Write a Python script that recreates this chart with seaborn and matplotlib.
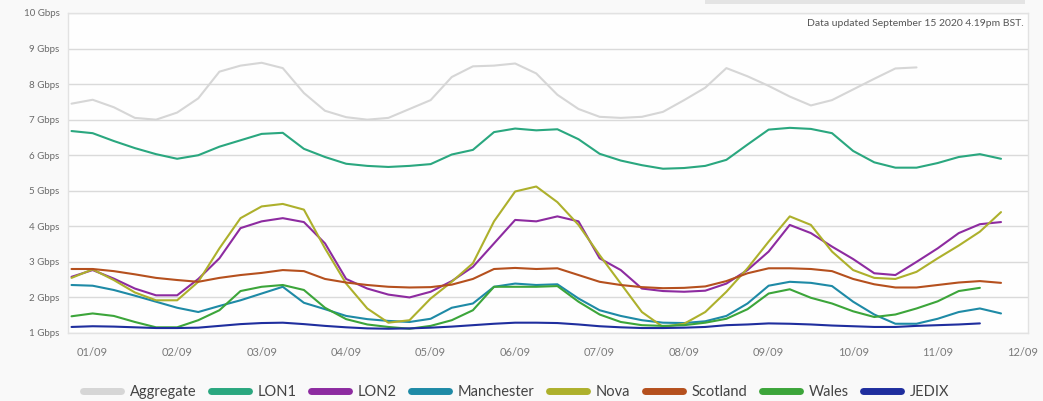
import numpy as np
import pandas as pd
import seaborn as sns
import matplotlib.pyplot as plt
from matplotlib.lines import Line2D
from matplotlib.patches import Rectangle
import matplotlib.dates as mdates

# ###########################################
# Data (Gbps, 6-hourly samples)
# ###########################################

times = pd.date_range('2020-08-31 18:00', periods=45, freq='6h')

aggregate = [7.45, 7.56, 7.35, 7.05, 7.0, 7.2, 7.6, 8.35, 8.52, 8.6,
             8.45, 7.75, 7.25, 7.07, 7.0, 7.05, 7.3, 7.55, 8.2, 8.5,
             8.52, 8.58, 8.3, 7.7, 7.3, 7.08, 7.05, 7.08, 7.22, 7.55,
             7.9, 8.45, 8.22, 7.95, 7.65, 7.4, 7.55, 7.85, 8.15, 8.44,
             8.47]
lon1 = [6.68, 6.62, 6.4, 6.2, 6.03, 5.9, 6.0, 6.24, 6.42, 6.6,
        6.63, 6.18, 5.95, 5.76, 5.7, 5.67, 5.7, 5.75, 6.02, 6.15,
        6.65, 6.75, 6.7, 6.73, 6.45, 6.04, 5.85, 5.72, 5.62, 5.64,
        5.7, 5.87, 6.3, 6.72, 6.77, 6.74, 6.62, 6.12, 5.8, 5.65,
        5.65, 5.78, 5.95, 6.03, 5.9]
lon2 = [2.58, 2.77, 2.53, 2.25, 2.06, 2.06, 2.52, 3.1, 3.95, 4.14,
        4.23, 4.12, 3.52, 2.52, 2.25, 2.08, 2.0, 2.16, 2.46, 2.86,
        3.52, 4.18, 4.14, 4.28, 4.14, 3.1, 2.77, 2.25, 2.18, 2.16,
        2.19, 2.39, 2.77, 3.29, 4.04, 3.81, 3.43, 3.08, 2.68, 2.63,
        3.0, 3.38, 3.81, 4.06, 4.12]
manchester = [2.35, 2.33, 2.21, 2.05, 1.88, 1.71, 1.59, 1.76, 1.92, 2.11,
              2.3, 1.85, 1.67, 1.48, 1.39, 1.34, 1.31, 1.4, 1.71, 1.83,
              2.3, 2.39, 2.35, 2.37, 1.97, 1.64, 1.48, 1.36, 1.29, 1.28,
              1.33, 1.48, 1.83, 2.33, 2.44, 2.41, 2.32, 1.88, 1.52, 1.26,
              1.26, 1.4, 1.59, 1.69, 1.55]
nova = [2.55, 2.79, 2.49, 2.14, 1.92, 1.92, 2.44, 3.38, 4.23, 4.56,
        4.63, 4.47, 3.38, 2.39, 1.69, 1.29, 1.36, 1.97, 2.44, 2.96,
        4.14, 4.98, 5.12, 4.68, 4.04, 3.19, 2.39, 1.59, 1.17, 1.26,
        1.59, 2.16, 2.82, 3.57, 4.28, 4.04, 3.29, 2.77, 2.55, 2.52,
        2.72, 3.1, 3.46, 3.85, 4.4]
scotland = [2.8, 2.8, 2.74, 2.65, 2.55, 2.49, 2.44, 2.55, 2.63, 2.69,
            2.77, 2.74, 2.52, 2.42, 2.35, 2.3, 2.28, 2.29, 2.36, 2.52,
            2.8, 2.83, 2.8, 2.82, 2.63, 2.44, 2.35, 2.29, 2.26, 2.27,
            2.31, 2.46, 2.68, 2.82, 2.82, 2.8, 2.74, 2.52, 2.37, 2.28,
            2.28, 2.35, 2.42, 2.46, 2.41]
wales = [1.47, 1.55, 1.48, 1.31, 1.16, 1.16, 1.36, 1.64, 2.18, 2.3,
         2.35, 2.21, 1.71, 1.39, 1.24, 1.17, 1.12, 1.2, 1.36, 1.64,
         2.3, 2.3, 2.3, 2.32, 1.88, 1.52, 1.31, 1.22, 1.2, 1.22,
         1.29, 1.4, 1.67, 2.11, 2.23, 1.99, 1.83, 1.61, 1.45, 1.52,
         1.69, 1.89, 2.18, 2.27]
jedix = [1.17, 1.19, 1.18, 1.16, 1.14, 1.14, 1.15, 1.2, 1.25, 1.28,
         1.29, 1.25, 1.2, 1.16, 1.13, 1.12, 1.13, 1.15, 1.18, 1.22,
         1.26, 1.29, 1.29, 1.28, 1.24, 1.19, 1.16, 1.14, 1.14, 1.15,
         1.17, 1.22, 1.24, 1.27, 1.26, 1.24, 1.21, 1.19, 1.17, 1.17,
         1.2, 1.22, 1.24, 1.27]

series_names = ['Aggregate', 'LON1', 'LON2', 'Manchester', 'Nova',
                'Scotland', 'Wales', 'JEDIX']
series_values = [aggregate, lon1, lon2, manchester, nova, scotland, wales, jedix]
colours = ['#d6d6d6', '#2aa77f', '#8d2ba0', '#1e8aa6', '#adb02c',
           '#b5501e', '#3ca53a', '#1f2e9e']

ytick_labels = ['%d Gbps' % v for v in range(1, 11)]
xtick_days = pd.date_range('2020-09-01', '2020-09-12', freq='D')

rows = []
for name, vals in zip(series_names, series_values):
    for t, v in zip(times, vals):
        rows.append({'time': t, 'Gbps': v, 'series': name})
df = pd.DataFrame(rows)

# ###########################################
# Plot
# ###########################################

sns.set_theme(style='white')
plt.rcParams['font.family'] = ['Lato', 'DejaVu Sans']

fig = plt.figure(figsize=(10.43, 4.01), dpi=100, facecolor='#f9f9f9')
ax = fig.add_axes([68/1043, 1 - 333/401, (1028 - 68)/1043, (333 - 13)/401])
ax.set_facecolor('#fefefe')

palette = dict(zip(series_names, colours))
sns.lineplot(data=df, x='time', y='Gbps', hue='series', palette=palette,
             hue_order=series_names, linewidth=1.5, ax=ax, legend=False,
             sort=False, solid_joinstyle='round')

ax.set_ylim(1, 10)
ax.set_yticks(range(1, 11))
ax.set_yticklabels(ytick_labels)
ax.set_xlim(pd.Timestamp('2020-08-31 17:00'), pd.Timestamp('2020-09-12 01:40'))
ax.set_xticks(xtick_days)
ax.xaxis.set_major_formatter(mdates.DateFormatter('%d/%m'))
ax.grid(axis='y', color='#dadada', linewidth=1)
ax.set_axisbelow(True)
ax.tick_params(axis='y', length=0, pad=6, labelsize=7, labelcolor='#6a6a6a')
ax.tick_params(axis='x', length=0, pad=10, labelsize=8, labelcolor='#7a7a7a')
ax.set_xlabel('')
ax.set_ylabel('')
for s in ax.spines.values():
    s.set_color('#e2e2e2')
    s.set_linewidth(1)

# top-right info box
fig.patches.append(Rectangle((705/1043, 1 - 4/401), (1025 - 705)/1043, 0.02,
                             transform=fig.transFigure, facecolor='#e4e4e4',
                             edgecolor='none'))
fig.text(1024/1043, 1 - 24/401, 'Data updated September 15 2020 4.19pm BST.',
         ha='right', va='center', fontsize=7.5, color='#555555')

handles = [Line2D([], [], color=c, linewidth=5) for c in colours]
fig.legend(handles, series_names, loc='center', bbox_to_anchor=(0.495, 1 - 392/401),
           ncol=8, frameon=False, fontsize=10.5, handlelength=2.6,
           columnspacing=1.0, handletextpad=0.6, labelcolor='#444444')

fig.savefig('out.png', dpi=100, facecolor=fig.get_facecolor())
